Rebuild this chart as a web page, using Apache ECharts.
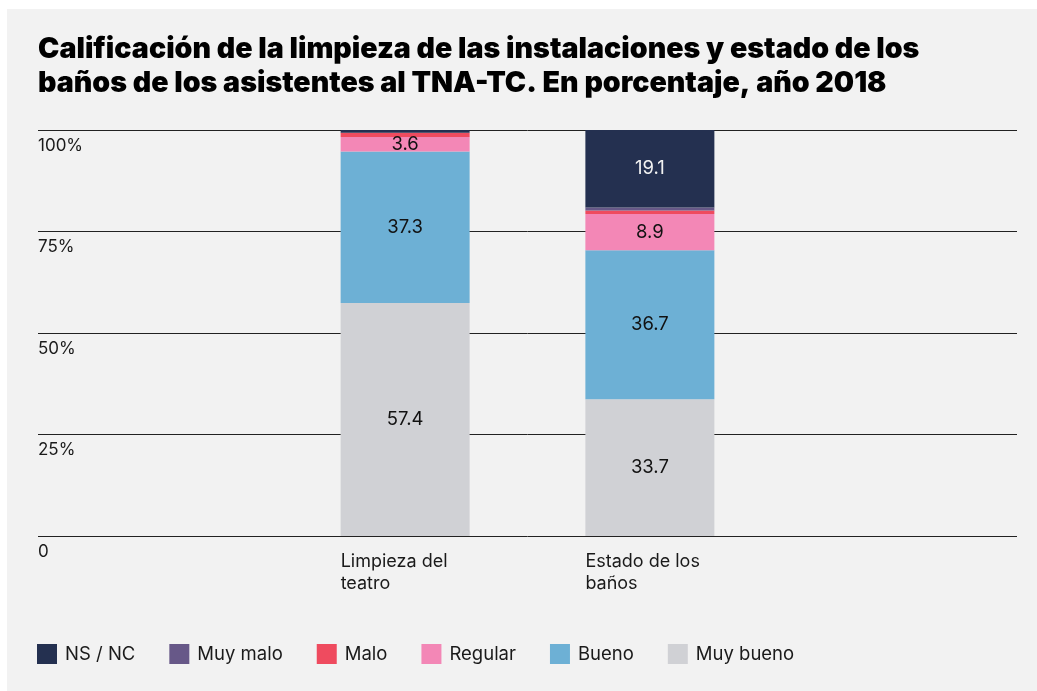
<!DOCTYPE html>
<html>
<head>
<meta charset="utf-8">
<script src="https://cdn.jsdelivr.net/npm/echarts@6/dist/echarts.min.js"></script>
<style>
  html, body { margin: 0; padding: 0; background: #ffffff; }
  #wrap { position: relative; width: 1037px; height: 691px; overflow: hidden; }
  #card { position: absolute; left: 7px; top: 9px; width: 1040px; height: 690px; background: #f2f2f2; }
  #chart { position: absolute; left: 0; top: 0; width: 1037px; height: 691px; }
</style>
</head>
<body>
<div id="wrap">
  <div id="card"></div>
  <div id="chart"></div>
</div>
<script>
const titleText = 'Calificación de la limpieza de las instalaciones y estado de los\nbaños de los asistentes al TNA-TC. En porcentaje, año 2018';
const categories = ['', 'Limpieza del\nteatro', 'Estado de los\nbaños', ''];
const seriesNames = ['Muy bueno', 'Bueno', 'Regular', 'Malo', 'Muy malo', 'NS / NC'];
const muyBueno = [null, 57.4, 33.7, null];
const bueno    = [null, 37.3, 36.7, null];
const regular  = [null, 3.6, 8.9, null];
const malo     = [null, 1.0, 0.9, null];
const muyMalo  = [null, 0.0, 0.7, null];
const nsnc     = [null, 0.7, 19.1, null];
const yTicks = [0, 25, 50, 75, 100];
const legendOrder = ['NS / NC', 'Muy malo', 'Malo', 'Regular', 'Bueno', 'Muy bueno'];

const colors = {
  'Muy bueno': '#d0d1d5',
  'Bueno': '#6db0d5',
  'Regular': '#f387b6',
  'Malo': '#ef4b5f',
  'Muy malo': '#675888',
  'NS / NC': '#243050'
};
const labelColors = {
  'NS / NC': '#f2f2f2'
};
const values = [muyBueno, bueno, regular, malo, muyMalo, nsnc];
const FONT = 'Inter, "Liberation Sans", sans-serif';

const chart = echarts.init(document.getElementById('chart'), null, { renderer: 'canvas' });
chart.setOption({
  backgroundColor: 'transparent',
  animation: false,
  textStyle: { fontFamily: FONT },
  title: {
    text: titleText,
    left: 33,
    top: 27,
    textStyle: {
      fontFamily: FONT,
      fontSize: 28.6,
      fontWeight: 900,
      lineHeight: 34,
      color: '#000000'
    }
  },
  legend: {
    data: legendOrder,
    left: 32,
    top: 639,
    icon: 'rect',
    itemWidth: 20,
    itemHeight: 20,
    itemGap: 34,
    textStyle: { fontFamily: FONT, fontSize: 18.5, color: '#1a1a1a', padding: [0, 0, 0, 3] }
  },
  grid: { left: 38, right: 20, top: 130, bottom: 155, containLabel: false },
  xAxis: {
    type: 'category',
    data: categories,
    axisLine: { show: false },
    axisTick: { show: false },
    axisLabel: {
      interval: 0,
      margin: 15,
      align: 'center',
      color: '#1a1a1a',
      fontFamily: FONT,
      fontSize: 18,
      lineHeight: 22,
      formatter: function (v) {
        if (!v) return '';
        return v.split('\n').map(function (s) { return '{a|' + s + '}'; }).join('\n');
      },
      rich: { a: { width: 129, align: 'left', fontSize: 18, lineHeight: 22, color: '#1a1a1a', fontFamily: FONT } }
    }
  },
  yAxis: {
    type: 'value',
    min: 0,
    max: 100,
    interval: 25,
    axisLine: { show: false },
    axisTick: { show: false },
    splitLine: { lineStyle: { color: '#222222', width: 1 } },
    axisLabel: {
      inside: true,
      margin: 0,
      verticalAlign: 'top',
      padding: [7, 0, 0, 0],
      color: '#1a1a1a',
      fontFamily: FONT,
      fontSize: 17,
      formatter: function (v) { return yTicks.indexOf(v) >= 0 ? (v === 0 ? '0' : v + '%') : ''; }
    }
  },
  series: seriesNames.map(function (name, i) {
    return {
      name: name,
      type: 'bar',
      stack: 'total',
      barWidth: 129,
      data: values[i],
      itemStyle: { color: colors[name] },
      label: {
        show: true,
        position: 'inside',
        fontFamily: FONT,
        fontSize: 18.5,
        color: labelColors[name] || '#111111',
        formatter: function (p) { return (p.value != null && p.value >= 3) ? p.value.toFixed(1) : ''; }
      }
    };
  })
});
</script>
</body>
</html>
